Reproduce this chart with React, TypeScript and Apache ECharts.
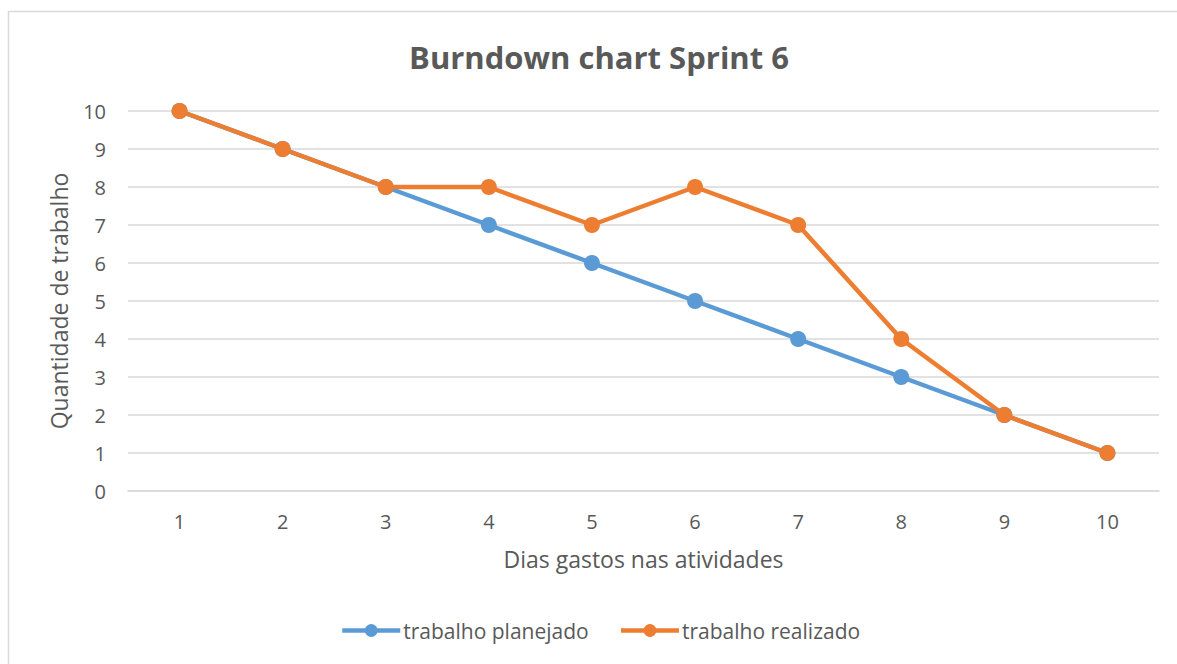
import React, { useEffect, useRef } from "react";
import * as echarts from "echarts";

const days = ["1", "2", "3", "4", "5", "6", "7", "8", "9", "10"];
const planejado = [10, 9, 8, 7, 6, 5, 4, 3, 2, 1];
const realizado = [10, 9, 8, 8, 7, 8, 7, 4, 2, 1];

const FONT = "'Open Sans', 'Noto Sans', sans-serif";
const TXT = "#595959";

export default function App() {
  const ref = useRef<HTMLDivElement>(null);
  useEffect(() => {
    if (!ref.current) return;
    const chart = echarts.init(ref.current, undefined, { renderer: "svg" });
    chart.setOption({
      animation: false,
      backgroundColor: "#ffffff",
      textStyle: { fontFamily: FONT, color: TXT },
      title: {
        text: "Burndown chart Sprint 6",
        left: 594,
        textAlign: "center",
        top: 36,
        textStyle: { fontFamily: FONT, fontSize: 31, fontWeight: "bold", color: TXT },
      },
      graphic: [
        {
          type: "rect",
          shape: { x: 8.5, y: 11.5, width: 1200, height: 700 },
          style: { fill: "none", stroke: "#D9D9D9", lineWidth: 1.5 },
          silent: true,
        },
      ],
      legend: {
        bottom: 18,
        left: 335,
        itemWidth: 58,
        itemHeight: 16,
        itemGap: 30,
        lineStyle: { width: 4.5 },
        textStyle: { fontFamily: FONT, fontSize: 21, color: TXT, padding: [0, 0, 0, -2] },
        data: ["trabalho planejado", "trabalho realizado"],
      },
      grid: { left: 128, right: 18, top: 111, bottom: 173 },
      xAxis: {
        type: "category",
        data: days,
        boundaryGap: true,
        name: "Dias gastos nas atividades",
        nameLocation: "middle",
        nameGap: 56,
        nameTextStyle: { fontFamily: FONT, fontSize: 23, color: TXT },
        axisLine: { lineStyle: { color: "#D9D9D9", width: 1.5 } },
        axisTick: { show: false },
        axisLabel: { fontFamily: FONT, fontSize: 20, color: TXT, margin: 20 },
      },
      yAxis: {
        type: "value",
        min: 0,
        max: 10,
        interval: 1,
        name: "Quantidade de trabalho",
        nameLocation: "middle",
        nameGap: 58,
        nameTextStyle: { fontFamily: FONT, fontSize: 23, color: TXT },
        axisLine: { show: false },
        axisTick: { show: false },
        axisLabel: { fontFamily: FONT, fontSize: 20, color: TXT, margin: 22 },
        splitLine: { lineStyle: { color: "#D9D9D9", width: 1.5 } },
      },
      series: [
        {
          name: "trabalho planejado",
          type: "line",
          data: planejado,
          symbol: "circle",
          symbolSize: 16,
          lineStyle: { width: 4.5, color: "#5B9BD5" },
          itemStyle: { color: "#5B9BD5" },
        },
        {
          name: "trabalho realizado",
          type: "line",
          data: realizado,
          symbol: "circle",
          symbolSize: 16,
          lineStyle: { width: 4.5, color: "#ED7D31" },
          itemStyle: { color: "#ED7D31" },
        },
      ],
    });
    return () => chart.dispose();
  }, []);
  return (
    <div
      ref={ref}
      style={{ position: "fixed", left: 0, top: 0, width: 1177, height: 664, overflow: "hidden" }}
    />
  );
}
